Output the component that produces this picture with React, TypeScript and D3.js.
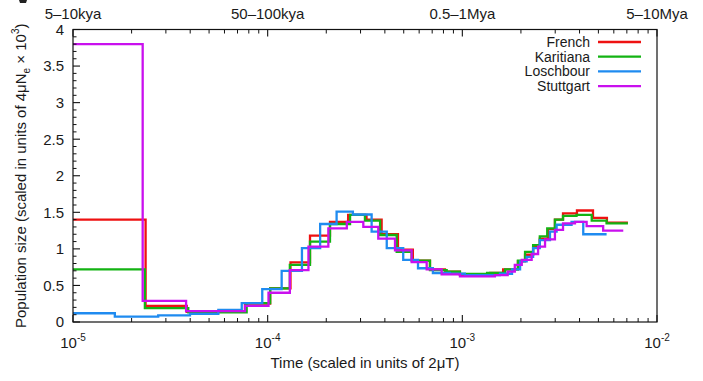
import React from "react";
import * as d3 from "d3";

// ---- data (time in units of 2μT, population size in units of 4μNe × 10^3) ----
const seriesNames = ["French", "Karitiana", "Loschbour", "Stuttgart"];
const seriesColors = ["#ee1111", "#13b313", "#1f8bf0", "#c910ee"];

const frenchTimes = [1e-5, 2.36e-5, 3.84e-5, 7.65e-5, 1.03e-4, 1.31e-4, 1.65e-4, 2.09e-4, 2.59e-4, 3.22e-4, 3.85e-4, 4.67e-4, 5.57e-4, 6.82e-4, 8.14e-4, 9.72e-4, 1.39e-3, 1.62e-3, 1.93e-3, 2.1e-3, 2.31e-3, 2.5e-3, 2.75e-3, 2.99e-3, 3.29e-3, 3.88e-3, 4.69e-3, 5.53e-3, 7.09e-3];
const frenchValues = [1.4, 0.22, 0.14, 0.25, 0.46, 0.815, 1.18, 1.37, 1.465, 1.4, 1.2, 0.99, 0.84, 0.72, 0.69, 0.645, 0.67, 0.72, 0.83, 0.92, 1.035, 1.14, 1.27, 1.4, 1.485, 1.525, 1.425, 1.36];

const karitianaTimes = [1e-5, 2.34e-5, 3.91e-5, 7.8e-5, 1.03e-4, 1.3e-4, 1.65e-4, 2.09e-4, 2.65e-4, 3.16e-4, 3.78e-4, 4.6e-4, 5.49e-4, 6.82e-4, 8.31e-4, 9.72e-4, 1.34e-3, 1.66e-3, 1.93e-3, 2.1e-3, 2.31e-3, 2.5e-3, 2.73e-3, 2.99e-3, 3.29e-3, 3.86e-3, 4.62e-3, 5.51e-3, 7.09e-3];
const karitianaValues = [0.72, 0.19, 0.133, 0.257, 0.46, 0.78, 1.1, 1.34, 1.465, 1.385, 1.19, 0.96, 0.84, 0.71, 0.69, 0.657, 0.67, 0.72, 0.84, 0.96, 1.05, 1.17, 1.28, 1.4, 1.45, 1.465, 1.385, 1.35];

const loschbourTimes = [1e-5, 1.64e-5, 2.74e-5, 3.99e-5, 5.58e-5, 7.36e-5, 9.38e-5, 1.18e-4, 1.5e-4, 1.86e-4, 2.26e-4, 2.74e-4, 3.42e-4, 4.09e-4, 4.97e-4, 5.92e-4, 7.06e-4, 8.64e-4, 1.03e-3, 1.56e-3, 1.8e-3, 1.98e-3, 2.14e-3, 2.31e-3, 2.5e-3, 2.82e-3, 3.05e-3, 3.64e-3, 4.18e-3, 5.51e-3];
const loschbourValues = [0.12, 0.073, 0.09, 0.11, 0.165, 0.257, 0.45, 0.7, 1.01, 1.34, 1.51, 1.47, 1.235, 1.01, 0.85, 0.735, 0.67, 0.66, 0.64, 0.66, 0.72, 0.83, 0.89, 1.01, 1.12, 1.235, 1.33, 1.37, 1.2];

const stuttgartTimes = [1e-5, 2.28e-5, 3.81e-5, 7.65e-5, 1.01e-4, 1.3e-4, 1.62e-4, 2.05e-4, 2.55e-4, 3.1e-4, 3.7e-4, 4.51e-4, 5.49e-4, 6.56e-4, 7.83e-4, 9.72e-4, 1.47e-3, 1.71e-3, 1.86e-3, 2.02e-3, 2.27e-3, 2.45e-3, 2.66e-3, 2.99e-3, 3.29e-3, 3.79e-3, 4.35e-3, 5.29e-3, 6.71e-3];
const stuttgartValues = [3.8, 0.29, 0.15, 0.22, 0.4, 0.71, 1.03, 1.28, 1.37, 1.3, 1.14, 0.98, 0.82, 0.72, 0.65, 0.625, 0.64, 0.69, 0.78, 0.85, 0.93, 1.03, 1.13, 1.26, 1.35, 1.37, 1.31, 1.25];

const xDecades = [1e-5, 1e-4, 1e-3, 1e-2];
const xDecadeExponents = ["-5", "-4", "-3", "-2"];
const topLabels = ["5\u201310kya", "50\u2013100kya", "0.5\u20131Mya", "5\u201310Mya"];
const yTicks = [0, 0.5, 1, 1.5, 2, 2.5, 3, 3.5, 4];
const yTickLabels = ["0", "0.5", "1", "1.5", "2", "2.5", "3", "3.5", "4"];

const W = 703;
const H = 381;
const M = { left: 73, right: 46, top: 29.5, bottom: 59 };
const FONT = "'Liberation Sans', Arial, Helvetica, sans-serif";
const TXT = "#1a1a1a";

export default function App() {
  const x = d3.scaleLog().domain([1e-5, 1e-2]).range([M.left, W - M.right]);
  const y = d3.scaleLinear().domain([0, 4]).range([H - M.bottom, M.top]);
  const x0 = M.left, x1 = W - M.right, y0 = H - M.bottom, y1 = M.top;

  const allSeries = [
    { t: frenchTimes, v: frenchValues },
    { t: karitianaTimes, v: karitianaValues },
    { t: loschbourTimes, v: loschbourValues },
    { t: stuttgartTimes, v: stuttgartValues },
  ];

  const line = d3
    .line<[number, number]>()
    .x((d) => x(d[0]))
    .y((d) => y(d[1]))
    .curve(d3.curveStepAfter);

  const paths = allSeries.map((s) => {
    const pts: [number, number][] = s.v.map((val, i) => [s.t[i], val]);
    pts.push([s.t[s.t.length - 1], s.v[s.v.length - 1]]);
    return line(pts) || "";
  });

  const xMinor = x.ticks().filter((t) => !xDecades.some((d) => Math.abs(d - t) / d < 1e-6));
  const yMinor = d3.range(0, 41).map((i) => i / 10).filter((v) => Math.abs(v * 2 - Math.round(v * 2)) > 1e-6);

  return (
    <svg
      width={W}
      height={H}
      style={{ position: "absolute", left: 0, top: 0, background: "#fff" }}
      fontFamily={FONT}
    >
      <rect x={0} y={0} width={W} height={H} fill="#fff" />
      {/* cropped panel letter remnant at the top-left corner */}
      <path d="M19,0 L27,0 L26,3 L20,3 Z" fill="#222" />

      {/* series */}
      <defs>
        <clipPath id="plotclip">
          <rect x={x0} y={y1 - 2} width={x1 - x0} height={y0 - y1 + 4} />
        </clipPath>
      </defs>
      <g clipPath="url(#plotclip)">
        {paths.map((d, i) => (
          <path key={i} d={d} fill="none" stroke={seriesColors[i]} strokeWidth={2.3} />
        ))}
      </g>

      {/* frame */}
      <rect x={x0} y={y1} width={x1 - x0} height={y0 - y1} fill="none" stroke="#111" strokeWidth={1.2} />

      {/* x ticks bottom & top */}
      {xDecades.map((t, i) => (
        <g key={"xd" + i}>
          <line x1={x(t)} x2={x(t)} y1={y0} y2={y0 - 7} stroke="#111" strokeWidth={1.1} />
          <line x1={x(t)} x2={x(t)} y1={y1} y2={y1 + 7} stroke="#111" strokeWidth={1.1} />
          <text x={x(t)} y={348} fontSize={15} fill={TXT} textAnchor="middle">
            10
            <tspan fontSize={10} dy={-7}>{xDecadeExponents[i]}</tspan>
          </text>
          <text x={x(t)} y={19} fontSize={15} fill={TXT} textAnchor="middle">
            {topLabels[i]}
          </text>
        </g>
      ))}
      {xMinor.map((t, i) => (
        <g key={"xm" + i}>
          <line x1={x(t)} x2={x(t)} y1={y0} y2={y0 - 4} stroke="#111" strokeWidth={1} />
          <line x1={x(t)} x2={x(t)} y1={y1} y2={y1 + 4} stroke="#111" strokeWidth={1} />
        </g>
      ))}

      {/* y ticks */}
      {yTicks.map((v, i) => (
        <g key={"y" + i}>
          <line x1={x0} x2={x0 + 7} y1={y(v)} y2={y(v)} stroke="#111" strokeWidth={1.1} />
          <text x={64} y={y(v)} dy="0.36em" fontSize={15} fill={TXT} textAnchor="end">
            {yTickLabels[i]}
          </text>
        </g>
      ))}
      {yMinor.map((v, i) => (
        <line key={"ym" + i} x1={x0} x2={x0 + 3.5} y1={y(v)} y2={y(v)} stroke="#111" strokeWidth={1} />
      ))}

      {/* axis titles */}
      <text x={(x0 + x1) / 2} y={368} fontSize={15} fill={TXT} textAnchor="middle">
        Time (scaled in units of 2μT)
      </text>
      <text
        transform={`translate(26, ${(y0 + y1) / 2}) rotate(-90)`}
        fontSize={15}
        fill={TXT}
        textAnchor="middle"
      >
        Population size (scaled in units of 4μN
        <tspan fontSize={10} dy={4}>e</tspan>
        <tspan dy={-4}> × 10</tspan>
        <tspan fontSize={10} dy={-7}>3</tspan>
        <tspan dy={7}>)</tspan>
      </text>

      {/* legend */}
      {seriesNames.map((name, i) => {
        const ly = 42 + i * 14.7;
        return (
          <g key={"lg" + i}>
            <text x={590} y={ly} dy="0.35em" fontSize={14} fill={TXT} textAnchor="end">
              {name}
            </text>
            <line x1={598} x2={641} y1={ly} y2={ly} stroke={seriesColors[i]} strokeWidth={2.3} />
          </g>
        );
      })}
    </svg>
  );
}
